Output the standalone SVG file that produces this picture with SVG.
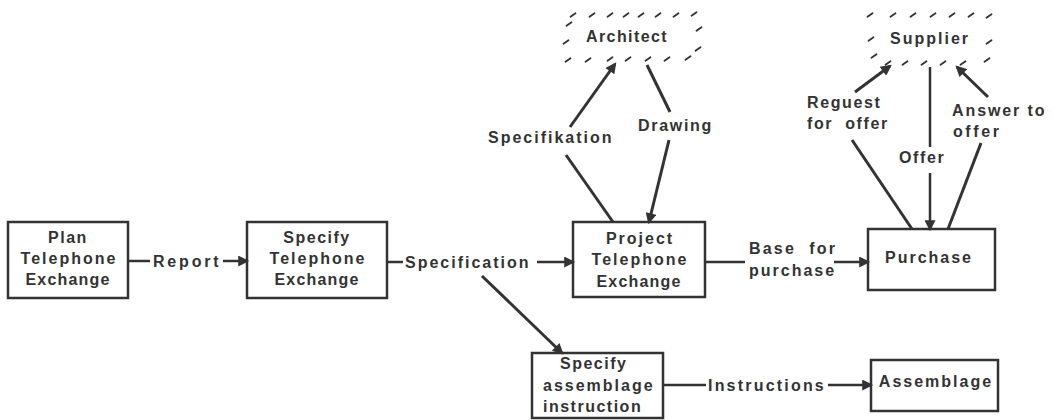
<svg xmlns="http://www.w3.org/2000/svg" xmlns:xlink="http://www.w3.org/1999/xlink" width="1052" height="420" viewBox="0 0 1052 420">
<style>
text{font-family:"Liberation Sans",Arial,sans-serif;font-weight:bold;font-size:16px;fill:#333;letter-spacing:2px}
.c{text-anchor:middle}
.box{fill:none;stroke:#333;stroke-width:2.5}
.ln{fill:none;stroke:#333;stroke-width:2.5}
.th{stroke-width:3}
.hs{stroke:#333;stroke-width:1.8;stroke-linecap:round}
</style>
<defs>
<marker id="ah" viewBox="0 0 10 10" refX="8" refY="5" markerWidth="13" markerHeight="11" markerUnits="userSpaceOnUse" orient="auto">
<path d="M0,0 L10,5 L0,10 z" fill="#333"/>
</marker>
<path id="h" class="hs" d="M-2.5,1.8 L2.5,-1.8"/>
</defs>
<rect width="1052" height="420" fill="#fff"/>

<g id="plan">
<rect class="box" x="8" y="222" width="120" height="76"/>
<text class="c" x="68" y="243" style="letter-spacing:1.5px">Plan</text>
<text class="c" x="69" y="264">Telephone</text>
<text class="c" x="68" y="285" style="letter-spacing:1.2px">Exchange</text>
</g>

<g id="specify">
<rect class="box" x="247" y="222" width="140" height="76"/>
<text class="c" x="317" y="243" style="letter-spacing:1.5px">Specify</text>
<text class="c" x="318" y="264">Telephone</text>
<text class="c" x="317" y="285" style="letter-spacing:1.2px">Exchange</text>
</g>

<g id="project">
<rect class="box" x="573" y="222" width="132" height="75"/>
<text class="c" x="640" y="244">Project</text>
<text class="c" x="640" y="265">Telephone</text>
<text class="c" x="639" y="287" style="letter-spacing:1.2px">Exchange</text>
</g>

<g id="purchase">
<rect class="box" x="868" y="229" width="127" height="61"/>
<text class="c" x="929" y="263">Purchase</text>
</g>

<g id="specify-assemblage">
<rect class="box" x="532" y="353" width="131" height="65"/>
<text x="560" y="369" style="letter-spacing:1.5px">Specify</text>
<text x="543" y="391">assemblage</text>
<text x="543" y="412" style="letter-spacing:1.5px">instruction</text>
</g>

<g id="assemblage">
<rect class="box" x="871" y="360" width="127" height="51"/>
<text class="c" x="936" y="387">Assemblage</text>
</g>

<g id="architect">
<use xlink:href="#h" x="573" y="15"/><use xlink:href="#h" x="592" y="15"/><use xlink:href="#h" x="610" y="15"/><use xlink:href="#h" x="626" y="15"/><use xlink:href="#h" x="641" y="15"/><use xlink:href="#h" x="658" y="15"/><use xlink:href="#h" x="676" y="15"/><use xlink:href="#h" x="694" y="14"/>
<use xlink:href="#h" x="569" y="24"/><use xlink:href="#h" x="566" y="42"/>
<use xlink:href="#h" x="699" y="29"/><use xlink:href="#h" x="698" y="49"/>
<use xlink:href="#h" x="568" y="60"/><use xlink:href="#h" x="588" y="60"/><use xlink:href="#h" x="610" y="59"/><use xlink:href="#h" x="628" y="59"/><use xlink:href="#h" x="648" y="59"/><use xlink:href="#h" x="667" y="59"/><use xlink:href="#h" x="688" y="58"/>
<text x="586" y="42" style="letter-spacing:1.4px">Architect</text>
</g>

<g id="supplier">
<use xlink:href="#h" x="870" y="15"/><use xlink:href="#h" x="893" y="15"/><use xlink:href="#h" x="913" y="15"/><use xlink:href="#h" x="933" y="15"/><use xlink:href="#h" x="952" y="15"/><use xlink:href="#h" x="971" y="15"/><use xlink:href="#h" x="989" y="16"/>
<use xlink:href="#h" x="871" y="39"/><use xlink:href="#h" x="989" y="42"/>
<use xlink:href="#h" x="874" y="56"/><use xlink:href="#h" x="888" y="63"/><use xlink:href="#h" x="905" y="63"/><use xlink:href="#h" x="924" y="63"/><use xlink:href="#h" x="943" y="63"/><use xlink:href="#h" x="963" y="63"/><use xlink:href="#h" x="987" y="60"/>
<text x="890" y="44">Supplier</text>
</g>

<g id="connectors">
<path class="ln" d="M128,261 H150"/>
<path class="ln" d="M223,261 H247" marker-end="url(#ah)"/>
<path class="ln" d="M387,262 H403"/>
<path class="ln" d="M537,262 H573" marker-end="url(#ah)"/>
<path class="ln" d="M705,262 H745"/>
<path class="ln" d="M834,262 H868" marker-end="url(#ah)"/>
<path class="ln" d="M663,385 H706"/>
<path class="ln" d="M828,385 H871" marker-end="url(#ah)"/>
<path class="ln th" d="M482,276 L562,353" marker-end="url(#ah)"/>
<path class="ln th" d="M613,222 L566,155"/>
<path class="ln th" d="M570,127 L615,64" marker-end="url(#ah)"/>
<path class="ln th" d="M647,65 L670,112"/>
<path class="ln th" d="M669,140 L649,222" marker-end="url(#ah)"/>
<path class="ln th" d="M855,92 L890,66" marker-end="url(#ah)"/>
<path class="ln th" d="M852,140 L912,229"/>
<path class="ln" d="M930,67 V147"/>
<path class="ln" d="M930,173 V229" marker-end="url(#ah)"/>
<path class="ln th" d="M988,97 L957,67" marker-end="url(#ah)"/>
<path class="ln th" d="M981,143 L948,229"/>
<text x="153" y="267" style="letter-spacing:2.8px">Report</text>
<text x="405" y="268">Specification</text>
<text x="749" y="254" xml:space="preserve" style="letter-spacing:2.2px">Base  for</text>
<text x="749" y="276">purchase</text>
<text x="708" y="391" style="letter-spacing:2.2px">Instructions</text>
<text x="488" y="143">Specifikation</text>
<text x="638" y="131" style="letter-spacing:1.7px">Drawing</text>
<text x="807" y="108" style="letter-spacing:1.6px">Reguest</text>
<text x="807" y="129" xml:space="preserve" style="letter-spacing:1.6px">for  offer</text>
<text x="899" y="163" style="letter-spacing:1.6px">Offer</text>
<text x="952" y="116" style="letter-spacing:1.9px">Answer to</text>
<text x="953" y="137" style="letter-spacing:2.6px">offer</text>
</g>
</svg>
